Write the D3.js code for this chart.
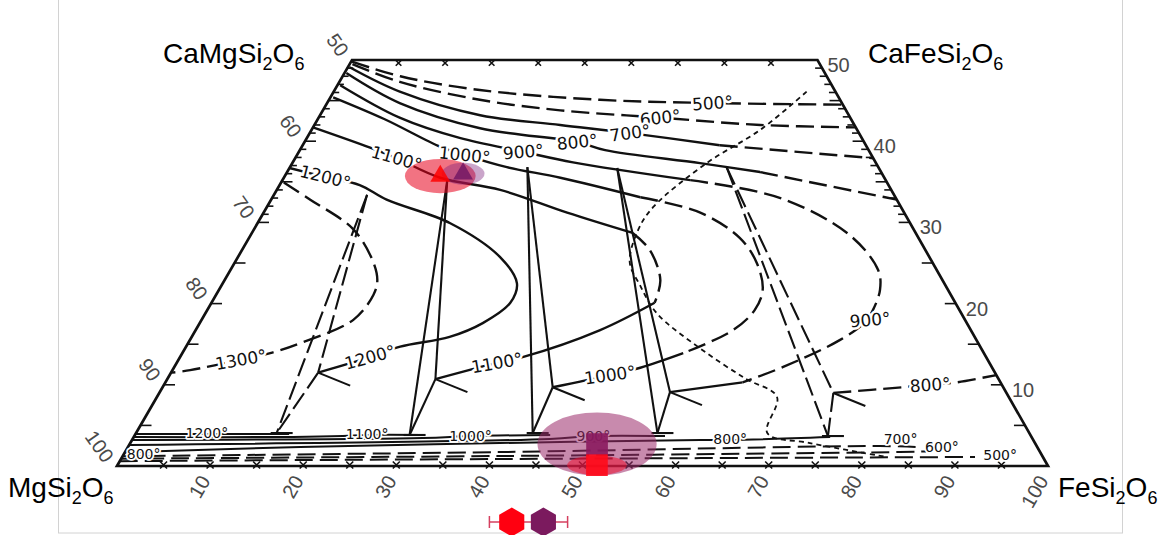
<!DOCTYPE html>
<html>
<head>
<meta charset="utf-8">
<script src="https://cdn.jsdelivr.net/npm/d3@7/dist/d3.min.js"></script>
<style>
html,body{margin:0;padding:0;background:#fff;}
svg{display:block;}
</style>
</head>
<body>
<svg id="quad" width="1164" height="535"></svg>
<script>
// Pyroxene quadrilateral thermometer. Every composition is [Fs, Wo] in mol %, En = 100 - Fs - Wo.

const fsTicks = [10, 20, 30, 40, 50, 60, 70, 80, 90, 100];
const enTicks = [50, 60, 70, 80, 90, 100];
const woTicks = [10, 20, 30, 40, 50];

// Augite isotherms; the hot ones fold back into pigeonite limbs
const iso500 = [[0.1,49.8],[6.2,48.0],[15.6,46.3],[29.1,45.1],[41.4,44.7],[55.5,44.5]];
const iso600 = [[0.3,49.5],[6.5,47.3],[16.2,45.1],[25.5,43.8],[36.7,42.9],[47.9,42.0],[58.3,41.7]];
const iso700 = [[0.2,49.1],[7.1,46.1],[17.2,43.2],[26.4,42.0],[34.4,41.0],[44.8,39.5],[62.1,37.9]];
const iso800 = [[0.2,48.4],[7.8,44.7],[18.0,41.6],[29.3,39.9],[32.8,38.9],[43.8,37.3],[50.8,36.2],[67.2,32.8]];
const iso800Low = [[72.4,9.0],[79.5,9.7],[82.3,10.0],[85.0,10.3],[88.8,11.2]];
const iso900 = [[0.3,46.9],[8.7,42.9],[16.4,40.4],[24.1,38.7],[30.1,37.4],[43.8,35.2],[54.6,33.0],[64.4,28.4],
  [69.6,24.1],[71.0,21.7],[71.5,19.2],[71.4,17.7],[69.8,15.5],[65.4,12.2],[62.0,10.3],[54.8,9.1]];
const iso1000 = [[0.3,45.4],[7.2,42.7],[14.9,39.3],[18.0,38.3],[23.3,36.8],[29.7,35.5],[39.5,33.1],[46.9,31.2],
  [52.7,28.1],[56.1,25.0],[58.4,21.7],[58.8,19.2],[57.7,16.7],[53.8,13.9],[50.1,12.1],[47.3,11.2],[41.9,9.7]];
const iso1100 = [[0.0,41.7],[7.4,39.2],[10.9,37.9],[16.8,35.5],[24.0,34.0],[32.6,31.2],[40.9,28.7],[43.8,26.6],
  [46.8,22.9],[47.6,20.1],[43.4,16.7],[36.8,13.4],[34.4,12.7],[28.8,10.7]];
const iso1200 = [[0.0,36.7],[4.4,35.6],[8.6,34.6],[12.4,32.8],[20.7,29.9],[28.2,25.7],[31.6,22.5],[32.1,20.1],
  [30.4,17.6],[27.7,15.9],[23.0,14.7],[20.4,13.4],[15.8,11.5]];
const iso1300 = [[0.3,34.9],[4.2,32.8],[10.6,29.2],[14.6,25.4],[16.4,22.9],[16.9,21.1],[16.3,18.0],[12.0,15.1],
  [9.7,14.0],[6.7,13.1],[1.9,11.8],[0.1,11.5]];

// Orthopyroxene isotherms along the En-Fs join
const opx1200 = [[0,3.94],[7.6,3.94],[16.5,3.94]];
const opx1100 = [[0,3.57],[17.1,3.57],[22.4,3.69],[24.9,3.82],[30.8,3.82]];
const opx1000 = [[0,3.2],[31.1,3.45],[36.1,3.69],[44.6,3.82]];
const opx900  = [[0,2.6],[44.8,3.33],[49.3,3.69],[57.0,3.69]];
const opx800  = [[0,1.7],[18.5,2.34],[39.7,2.83],[61.0,3.2],[64.2,3.2],[74.8,3.57]];
const opx700  = [[0,1.2],[40.3,1.72],[80.7,2.46],[84.7,2.34]];
const opx600  = [[0,0.9],[40.5,1.23],[83.2,1.72],[86.0,1.8]];
const opx500  = [[0,0.6],[40.7,0.86],[91.6,1.11]];

// Three-pyroxene triangles: augite, pigeonite, orthopyroxene corners
const tieTemps = [1200, 1100, 1000, 900, 800];
const tieAug = [[10.0,33.4],[17.7,35.2],[25.5,36.8],[35.2,36.7],[46.9,36.8]];
const tiePig = [[15.8,11.5],[28.8,10.7],[41.9,9.7],[54.8,9.1],[72.4,9.0]];
const tieOpx = [[15.1,4.06],[29.5,3.82],[42.6,4.06],[56.0,4.06],[74.5,3.69]];

// Short-dashed boundary curve
const boundary = [[50.8,46.1],[48.2,41.4],[44.5,37.3],[41.5,31.9],[41.3,29.1],[42.4,25.1],[44.9,22.3],[48.5,18.8],
  [55.3,14.5],[62.0,10.8],[66.6,8.5],[67.8,4.06],[73.0,2.83],[82.1,1.11]];

// Isotherm labels
const isoLabelText = ["500°","600°","700°","800°","900°","1000°","1100°","1200°",
  "1300°","1200°","1100°","1000°","900°","800°"];
const isoLabelAt = [[41.4,44.7],[36.7,42.9],[34.4,41.0],[29.3,39.9],[24.1,38.7],[18.0,38.3],[10.9,37.9],[4.4,35.6],
  [6.7,13.1],[20.4,13.4],[34.4,12.7],[47.3,11.2],[71.8,18.0],[82.3,10.0]];
const opxLabelText = ["1200°","1100°","1000°","900°","800°","800°","700°","600°","500°"];
const opxLabelAt = [[7.6,4.06],[24.9,3.9],[36.1,3.7],[49.3,3.7],[64.2,3.3],[2.1,1.5],[82.5,3.3],[87.4,2.4],[94.2,1.3]];

// Measured pyroxenes
const augRed = [16.7, 35.7], augPurple = [19.0, 36.0];
const augRedSpread = [3.8, 2.1], augPurpleSpread = [2.3, 1.35];
const opxRed = [51.5, 0.1], opxPurple = [50.2, 2.7];
const opxRedSpread = [3.2, 1.2], opxPurpleSpread = [6.4, 3.9];
const bulkFs = [42.4, 45.8];
const bulkFsRange = [40.0, 48.4];

// ---------------------------------------------------------------------------
const svg = d3.select("#quad");
const fsX = d3.scaleLinear().domain([0, 100]).range([117, 1048]);
const woY = d3.scaleLinear().domain([0, 50]).range([466, 60]);
const woShift = d3.scaleLinear().domain([0, 50]).range([0, 235]);
const P = d => [fsX(d[0]) + woShift(d[1]), woY(d[1])];

const smooth = d3.line().x(d => P(d)[0]).y(d => P(d)[1]).curve(d3.curveCatmullRom.alpha(0.5));
const straight = d3.line().x(d => P(d)[0]).y(d => P(d)[1]);
const INK = "#111";
const DASH = "18,7";

// light frame around the figure
svg.append("rect").attr("x", 58.5).attr("y", -1).attr("width", 1064).attr("height", 534)
  .attr("fill", "none").attr("stroke", "#d2d2d2").attr("stroke-width", 1);

const gLines = svg.append("g");

function draw(pts, a, b, dashed, w) {
  gLines.append("path").attr("d", smooth(pts.slice(a, b + 1)))
    .attr("fill", "none").attr("stroke", INK).attr("stroke-width", w || 2.4)
    .attr("stroke-dasharray", dashed ? DASH : null);
}

// quadrilateral outline
gLines.append("path")
  .attr("d", straight([[0,0],[100,0],[50,50],[0,50]]) + "Z")
  .attr("fill", "none").attr("stroke", INK).attr("stroke-width", 2.7).attr("stroke-linejoin", "miter");

// augite / pigeonite isotherms
draw(iso500, 0, 5, true);
draw(iso600, 0, 6, true);
draw(iso700, 0, 5, false); draw(iso700, 5, 6, true);
draw(iso800, 0, 6, false); draw(iso800, 6, 7, true);
draw(iso800Low, 0, 4, true);
draw(iso900, 0, 5, false); draw(iso900, 5, 14, true); draw(iso900, 14, 15, false);
draw(iso1000, 0, 6, false); draw(iso1000, 6, 13, true); draw(iso1000, 13, 16, false);
draw(iso1100, 0, 6, false); draw(iso1100, 6, 9, true); draw(iso1100, 9, 13, false);
draw(iso1200, 0, 12, false);
draw(iso1300, 0, 11, true);

// orthopyroxene isotherms
[opx1200, opx1100, opx1000, opx900, opx800].forEach(c => draw(c, 0, c.length - 1, false, 2));
[opx700, opx600, opx500].forEach(c => draw(c, 0, c.length - 1, true, 2));

// three-pyroxene triangles with arrow barbs at the pigeonite corner
tieTemps.forEach((t, i) => {
  const dashed = (t === 1200 || t === 800);
  [[tieAug[i], tiePig[i]], [tiePig[i], tieOpx[i]], [tieAug[i], tieOpx[i]]].forEach(seg => {
    gLines.append("path").attr("d", straight(seg))
      .attr("fill", "none").attr("stroke", INK).attr("stroke-width", 2.1)
      .attr("stroke-dasharray", dashed ? "19,6" : null);
  });
  const p = P(tiePig[i]);
  gLines.append("line").attr("x1", p[0]).attr("y1", p[1]).attr("x2", p[0] + 32).attr("y2", p[1] + 13)
    .attr("stroke", INK).attr("stroke-width", 2.1);
  const q = P(tieOpx[i]);
  gLines.append("line").attr("x1", q[0] - 6).attr("y1", q[1]).attr("x2", q[0] + 16).attr("y2", q[1])
    .attr("stroke", INK).attr("stroke-width", 2.1);
});

// boundary curve
gLines.append("path").attr("d", smooth(boundary)).attr("fill", "none")
  .attr("stroke", INK).attr("stroke-width", 1.8).attr("stroke-dasharray", "5,4");

// ticks --------------------------------------------------------------------
const gTicks = svg.append("g").attr("stroke", INK).attr("stroke-width", 1.6);
function cross(x, y, s) {
  gTicks.append("path").attr("d", `M${x - s},${y - s}L${x + s},${y + s}M${x + s},${y - s}L${x - s},${y + s}`);
}
d3.range(5, 100, 5).forEach(fs => { const p = P([fs, 0]); cross(p[0], p[1] - 1, 3.5); });
d3.range(5, 50, 5).forEach(fs => { const p = P([fs, 50]); cross(p[0], p[1] + 3, 2.8); });

// left edge (En scale), ticks point inward
d3.range(51, 100).forEach(en => {
  const major = en % 5 === 0;
  if (!major && en > 70) return;
  const p = P([0, 100 - en]);
  gTicks.append("line").attr("x1", p[0]).attr("y1", p[1]).attr("x2", p[0] + (major ? 11 : 6)).attr("y2", p[1]);
});
// right edge (Wo scale)
d3.range(1, 50).forEach(wo => {
  const major = wo % 5 === 0;
  if (!major && wo < 30) return;
  const p = P([100 - wo, wo]);
  gTicks.append("line").attr("x1", p[0]).attr("y1", p[1]).attr("x2", p[0] - (major ? 11 : 7)).attr("y2", p[1]);
});

// tick labels --------------------------------------------------------------
const tickFont = "'Liberation Sans', Arial, sans-serif";
const gNum = svg.append("g").attr("font-family", tickFont).attr("font-size", 20).attr("fill", "#4a4a4a");
fsTicks.forEach(fs => {
  const p = P([fs, 0]);
  gNum.append("text").attr("transform", `translate(${p[0] - 5},${p[1] + 11}) rotate(-60)`)
    .attr("text-anchor", "end").attr("dominant-baseline", "central").text(fs);
});
enTicks.forEach(en => {
  const p = P([0, 100 - en]);
  gNum.append("text").attr("transform", `translate(${p[0] - 8},${p[1] - 6}) rotate(55)`)
    .attr("text-anchor", "end").attr("dominant-baseline", "central").text(en);
});
woTicks.forEach(wo => {
  const p = P([100 - wo, wo]);
  gNum.append("text").attr("x", p[0] + 10).attr("y", p[1] + 5)
    .attr("dominant-baseline", "central").text(wo);
});

// end-member names
const nameFont = "'Liberation Sans', Arial, sans-serif";
function formula(x, y, parts) {
  const t = svg.append("text").attr("x", x).attr("y", y).attr("font-family", nameFont)
    .attr("font-size", 28).attr("fill", "#000");
  let low = false;
  parts.forEach(s => {
    const sub = /^\d$/.test(s);
    const dy = sub && !low ? 7 : (!sub && low ? -7 : 0);
    t.append("tspan").attr("dy", dy).attr("font-size", sub ? 18 : 28).text(s);
    low = sub;
  });
}
formula(163, 63, ["CaMgSi", "2", "O", "6"]);
formula(868, 63, ["CaFeSi", "2", "O", "6"]);
formula(8, 497, ["MgSi", "2", "O", "6"]);
formula(1058, 497, ["FeSi", "2", "O", "6"]);

// isotherm labels, knocked out of the lines with a white halo
const labelFont = "'DejaVu Sans', sans-serif";
const isoTilt = [-4, -6, -8, -6, -5, 6, 16, 14, -10, -15, -10, -8, -5, -4];
const gLab = svg.append("g").attr("font-family", labelFont).attr("fill", INK)
  .attr("stroke", "#fff").attr("stroke-linejoin", "round").style("paint-order", "stroke");
isoLabelText.forEach((s, i) => {
  const p = P(isoLabelAt[i]);
  gLab.append("text").attr("transform", `translate(${p[0]},${p[1]}) rotate(${isoTilt[i]})`)
    .attr("text-anchor", "middle").attr("dominant-baseline", "central")
    .attr("font-size", 17).attr("stroke-width", 5).text(s);
});
opxLabelText.forEach((s, i) => {
  const p = P(opxLabelAt[i]);
  gLab.append("text").attr("x", p[0]).attr("y", p[1])
    .attr("text-anchor", "middle").attr("dominant-baseline", "central")
    .attr("font-size", 14).attr("stroke-width", 3.5).text(s);
});

// measured compositions ------------------------------------------------------
const gData = svg.append("g");
function cloud(c, r, color, op) {
  const p = P(c);
  gData.append("ellipse").attr("cx", p[0]).attr("cy", p[1])
    .attr("rx", fsX(r[0]) - fsX(0)).attr("ry", woY(0) - woY(r[1]))
    .attr("fill", color).attr("opacity", op);
}
cloud(opxPurple, opxPurpleSpread, "#9b2a6a", 0.55);
cloud(opxRed, opxRedSpread, "#ee1030", 0.55);
cloud(augRed, augRedSpread, "#e8001c", 0.55);
cloud(augPurple, augPurpleSpread, "#7a1f7a", 0.4);

function symbol(c, type, size, color, op) {
  const p = P(c);
  gData.append("path").attr("d", d3.symbol().type(type).size(size)())
    .attr("transform", `translate(${p[0]},${p[1]})`).attr("fill", color).attr("opacity", op);
}
symbol(augRed, d3.symbolTriangle, 170, "#ff0000", 0.85);
symbol(augPurple, d3.symbolTriangle, 170, "#6e1463", 0.8);
symbol(opxPurple, d3.symbolSquare, 470, "#8a1a5e", 0.9);
symbol(opxRed, d3.symbolSquare, 470, "#ff0a1a", 0.9);

// bulk Fs with range, shown below the join
const rowY = 522;
const gBulk = svg.append("g").attr("stroke", "#d5405f").attr("stroke-width", 1.5);
const xa = fsX(bulkFsRange[0]), xb = fsX(bulkFsRange[1]);
gBulk.append("line").attr("x1", xa).attr("x2", xb).attr("y1", rowY).attr("y2", rowY);
[xa, xb].forEach(x => gBulk.append("line").attr("x1", x).attr("x2", x).attr("y1", rowY - 6).attr("y2", rowY + 6));
const hex = r => d3.range(6).map(k => {
  const a = (k * 60 - 90) * Math.PI / 180;
  return [r * Math.cos(a), r * Math.sin(a)];
});
["#ff0010", "#7b1a5e"].forEach((col, i) => {
  svg.append("path").attr("d", d3.line()(hex(14.5)) + "Z")
    .attr("transform", `translate(${fsX(bulkFs[i])},${rowY})`).attr("fill", col);
});
</script>
</body>
</html>
